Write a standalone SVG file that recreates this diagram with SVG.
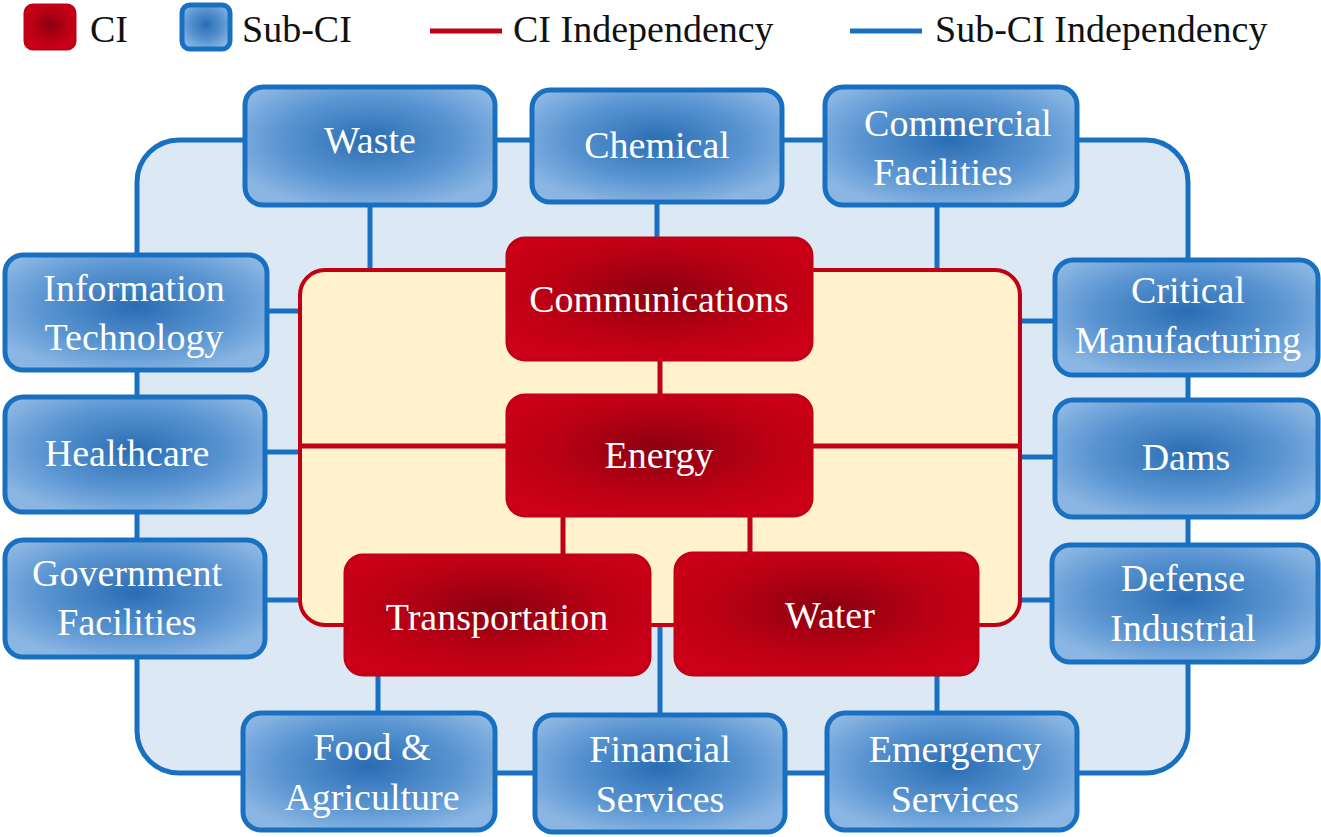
<svg xmlns="http://www.w3.org/2000/svg" width="1321" height="837" viewBox="0 0 1321 837">
<defs>
<radialGradient id="bg" cx="0.5" cy="0.45" r="0.6"><stop offset="0" stop-color="#2a6db3"/><stop offset="0.6" stop-color="#5a95d2"/><stop offset="1" stop-color="#8bb6e3"/></radialGradient>
<radialGradient id="rg" cx="0.5" cy="0.45" r="0.6"><stop offset="0" stop-color="#8a0010"/><stop offset="0.6" stop-color="#bb0014"/><stop offset="1" stop-color="#cc0018"/></radialGradient>
<style>
.b{fill:url(#bg);stroke:#1a70c0;stroke-width:5}
.r{fill:url(#rg);stroke:#c00014;stroke-width:3}
text{font-family:'Liberation Serif','Times New Roman','DejaVu Serif',serif}
.t{font-size:38px;fill:#fff;text-anchor:middle}
.l{font-size:38px;fill:#111}
.bc{stroke:#1a70c0;stroke-width:5;fill:none}
.rc{stroke:#c00014;stroke-width:5;fill:none}
</style>
</defs>
<g id="legend">
<rect x="25" y="5" width="50" height="44" rx="8" class="r"/><text x="90" y="42" class="l" font-family="Liberation Serif, serif">CI</text>
<rect x="182" y="5" width="48" height="44" rx="8" class="b"/><text x="242" y="42" class="l">Sub-CI</text>
<line x1="430" y1="31" x2="502" y2="31" class="rc"/><text x="513" y="42" class="l">CI Independency</text>
<line x1="850" y1="31" x2="922" y2="31" class="bc"/><text x="935" y="42" class="l">Sub-CI Independency</text>
</g>
<g id="connectors">
<rect x="137" y="140" width="1051" height="633" rx="42" fill="#dde8f5" stroke="#1a70c0" stroke-width="5"/>
<path class="bc" d="M370 205V270M657 202V238M937 205V270M267 311H300M265 452H300M265 600H300M1020 321H1055M1020 457H1055M1020 600H1052M378 675V713M660 625V715M937 675V713"/>
<rect x="300" y="270" width="720" height="355" rx="25" fill="#fff2cc" stroke="#c00014" stroke-width="4"/>
<path class="rc" d="M300 446H1020M660 360V395M563 516V555M750 516V553"/>
</g>
<g id="waste"><rect x="245" y="87" width="250" height="118" rx="18" class="b"/><text x="370" y="153" class="t">Waste</text></g>
<g id="chemical"><rect x="532" y="90" width="250" height="112" rx="18" class="b"/><text x="657" y="158" class="t">Chemical</text></g>
<g id="commercial"><rect x="825" y="87" width="252" height="118" rx="18" class="b"/><text x="958" y="136" class="t">Commercial</text><text x="943" y="185" class="t">Facilities</text></g>
<g id="it"><rect x="5" y="255" width="262" height="115" rx="18" class="b"/><text x="134" y="301" class="t">Information</text><text x="134" y="350" class="t">Technology</text></g>
<g id="healthcare"><rect x="5" y="397" width="260" height="115" rx="18" class="b"/><text x="127" y="466" class="t">Healthcare</text></g>
<g id="government"><rect x="5" y="540" width="260" height="117" rx="18" class="b"/><text x="127" y="586" class="t">Government</text><text x="127" y="635" class="t">Facilities</text></g>
<g id="critical"><rect x="1055" y="260" width="263" height="115" rx="18" class="b"/><text x="1188" y="303" class="t">Critical</text><text x="1188" y="353" class="t">Manufacturing</text></g>
<g id="dams"><rect x="1055" y="400" width="263" height="117" rx="18" class="b"/><text x="1186" y="470" class="t">Dams</text></g>
<g id="defense"><rect x="1052" y="545" width="266" height="117" rx="18" class="b"/><text x="1183" y="591" class="t">Defense</text><text x="1183" y="641" class="t">Industrial</text></g>
<g id="food"><rect x="243" y="713" width="252" height="117" rx="18" class="b"/><text x="372" y="760" class="t">Food &amp;</text><text x="372" y="810" class="t">Agriculture</text></g>
<g id="financial"><rect x="535" y="715" width="250" height="117" rx="18" class="b"/><text x="660" y="762" class="t">Financial</text><text x="660" y="812" class="t">Services</text></g>
<g id="emergency"><rect x="827" y="713" width="250" height="117" rx="18" class="b"/><text x="955" y="762" class="t">Emergency</text><text x="955" y="812" class="t">Services</text></g>
<g id="communications"><rect x="507" y="238" width="305" height="122" rx="18" class="r"/><text x="659" y="312" class="t">Communications</text></g>
<g id="energy"><rect x="507" y="395" width="305" height="121" rx="18" class="r"/><text x="659" y="468" class="t">Energy</text></g>
<g id="transportation"><rect x="345" y="555" width="305" height="120" rx="18" class="r"/><text x="497" y="630" class="t">Transportation</text></g>
<g id="water"><rect x="675" y="553" width="303" height="122" rx="18" class="r"/><text x="830" y="628" class="t">Water</text></g>
</svg>
